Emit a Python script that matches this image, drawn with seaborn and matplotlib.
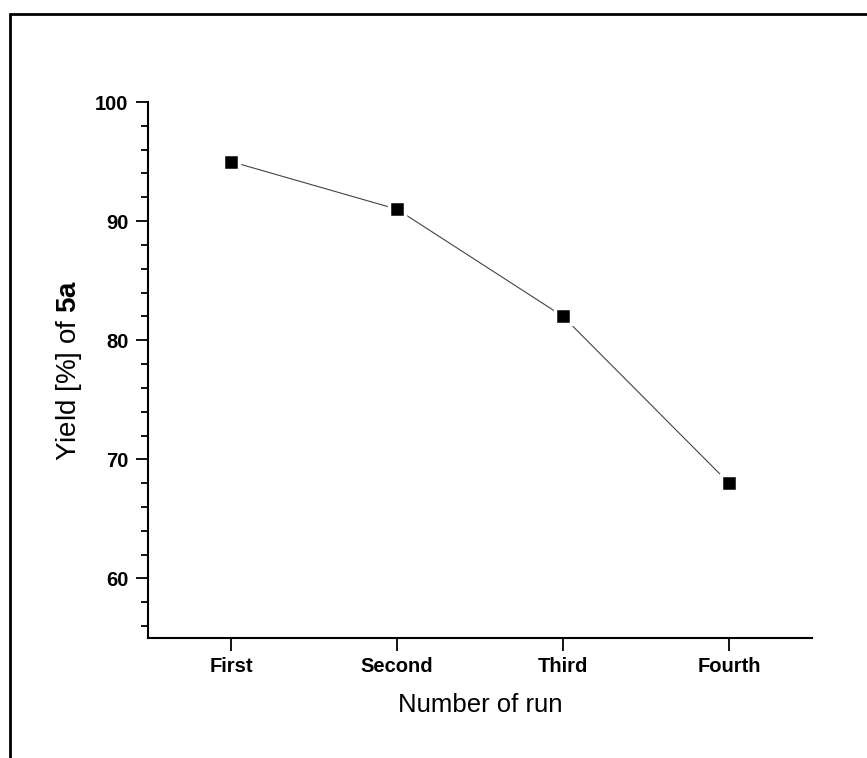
import matplotlib
matplotlib.use("Agg")
import matplotlib.pyplot as plt
import seaborn as sns
import pandas as pd
from matplotlib.ticker import MultipleLocator
from matplotlib.lines import Line2D

runs = ["First", "Second", "Third", "Fourth"]
yields = [95, 91, 82, 68]

df = pd.DataFrame({"run": runs, "yield": yields, "pos": range(len(runs))})

sns.set_style("white")
plt.rcParams["font.family"] = ["Liberation Sans", "DejaVu Sans"]
plt.rcParams["mathtext.fontset"] = "custom"
plt.rcParams["mathtext.rm"] = "Liberation Sans"
plt.rcParams["mathtext.bf"] = "Liberation Sans:bold"
plt.rcParams["text.color"] = "black"
plt.rcParams["axes.labelcolor"] = "black"
plt.rcParams["xtick.color"] = "black"
plt.rcParams["ytick.color"] = "black"

fig = plt.figure(figsize=(8.67, 7.58), dpi=100)
ax = fig.add_axes([0.1707, 0.1583, 0.7659, 0.7071])

sns.lineplot(data=df, x="pos", y="yield", ax=ax, color="#444444", linewidth=0.8,
             marker="s", markersize=12, markerfacecolor="black",
             markeredgecolor="white", markeredgewidth=2.5)

ax.set_xlim(-0.5, 3.5)
ax.set_ylim(55, 100)
ax.set_xticks(range(len(runs)))
ax.set_xticklabels(runs, fontweight="bold", fontsize=14.5)
ax.set_yticks([60, 70, 80, 90, 100])
ax.yaxis.set_minor_locator(MultipleLocator(2))
for lbl in ax.get_yticklabels():
    lbl.set_fontweight("bold")
    lbl.set_fontsize(14.5)

ax.tick_params(axis="both", which="major", direction="out", length=9, width=1.3,
               color="black", labelcolor="black", pad=5, left=True, bottom=True)
ax.tick_params(axis="y", which="minor", direction="out", length=5, width=1.3,
               color="black", left=True)

for side in ["top", "right"]:
    ax.spines[side].set_visible(False)
for side in ["left", "bottom"]:
    ax.spines[side].set_color("black")
    ax.spines[side].set_linewidth(1.5)

ax.set_xlabel("Number of run", fontsize=18.5, labelpad=12, color="black")
ax.set_ylabel(r"Yield [%] of $\mathbf{5a}$", fontsize=20, labelpad=8, color="black")

# Outer frame along the top and left edges
fig.add_artist(Line2D([0.0115, 1.0], [1 - 14 / 758, 1 - 14 / 758],
                      transform=fig.transFigure, color="black", linewidth=2))
fig.add_artist(Line2D([0.0115, 0.0115], [0.0, 1 - 14 / 758],
                      transform=fig.transFigure, color="black", linewidth=2))

fig.savefig("out.png", dpi=100, facecolor="white")
